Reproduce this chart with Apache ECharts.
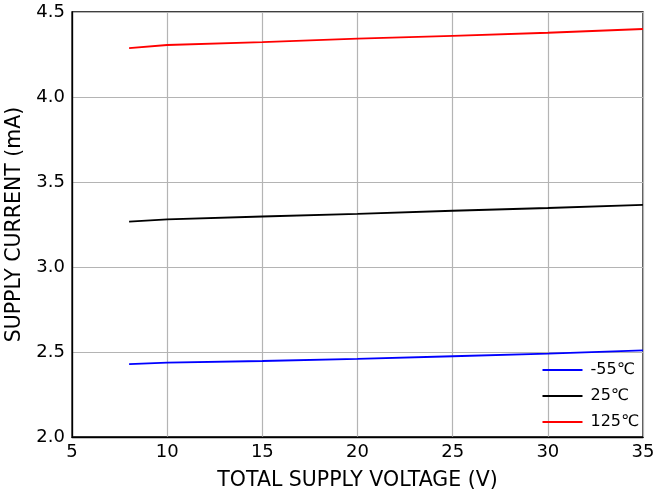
<!DOCTYPE html>
<html>
<head>
<meta charset="utf-8">
<script src="https://cdn.jsdelivr.net/npm/echarts@6/dist/echarts.min.js"></script>
<style>
  html, body { margin: 0; padding: 0; background: #fff; }
  #chart { width: 656px; height: 495px; }
</style>
</head>
<body>
<div id="chart"></div>
<script>
// Supply voltage sample points (V)
const voltage = [8, 10, 15, 20, 25, 30, 35];
// Supply current (mA) at each temperature
const currentMinus55 = [2.429, 2.437, 2.447, 2.459, 2.475, 2.490, 2.510];
const current25 = [3.267, 3.280, 3.297, 3.313, 3.331, 3.347, 3.365];
const current125 = [4.288, 4.306, 4.323, 4.343, 4.360, 4.378, 4.400];
const seriesNames = ['-55℃', '25℃', '125℃'];
const seriesColors = ['#0000ff', '#000000', '#ff0000'];

const pairs = v => voltage.map((x, i) => [x, v[i]]);
const allValues = [currentMinus55, current25, current125];

const chart = echarts.init(document.getElementById('chart'), null, { renderer: 'canvas' });
const font = 'DejaVu Sans';

chart.setOption({
  animation: false,
  backgroundColor: '#fff',
  textStyle: { fontFamily: font },
  grid: {
    left: 72, right: 13, top: 12, bottom: 58,
    containLabel: false, outerBoundsMode: 'none',
    show: true, borderColor: '#000', borderWidth: 1.3, backgroundColor: 'transparent'
  },
  legend: {
    orient: 'vertical',
    right: 12, bottom: 60,
    icon: 'rect',
    itemWidth: 40, itemHeight: 2, itemGap: 10,
    textStyle: { fontFamily: font, fontSize: 16, color: '#000', lineHeight: 16, padding: [0, 0, 0, 3] },
    data: seriesNames
  },
  xAxis: {
    type: 'value', min: 5, max: 35, interval: 5,
    name: 'TOTAL SUPPLY VOLTAGE (V)', nameLocation: 'middle', nameGap: 33,
    nameTextStyle: { fontFamily: font, fontSize: 20.5, color: '#000' },
    axisLine: { lineStyle: { color: '#000', width: 1.3 } },
    axisTick: { show: false },
    axisLabel: { fontFamily: font, fontSize: 18, color: '#000', margin: 6 },
    splitLine: { lineStyle: { color: '#b4b4b4', width: 1.2 } }
  },
  yAxis: {
    type: 'value', min: 2.0, max: 4.5, interval: 0.5,
    name: 'SUPPLY CURRENT (mA)', nameLocation: 'middle', nameGap: 34,
    nameTextStyle: { fontFamily: font, fontSize: 20.5, color: '#000' },
    axisLine: { show: true, lineStyle: { color: '#000', width: 1.3 } },
    axisTick: { show: false },
    axisLabel: { fontFamily: font, fontSize: 18, color: '#000', margin: 7,
      formatter: v => v.toFixed(1) },
    splitLine: { lineStyle: { color: '#b4b4b4', width: 1.2 } }
  },
  series: seriesNames.map((name, i) => ({
    name,
    type: 'line',
    data: pairs(allValues[i]),
    symbol: 'none',
    showSymbol: false,
    lineStyle: { color: seriesColors[i], width: 1.8 },
    itemStyle: { color: seriesColors[i] }
  }))
});
</script>
</body>
</html>
